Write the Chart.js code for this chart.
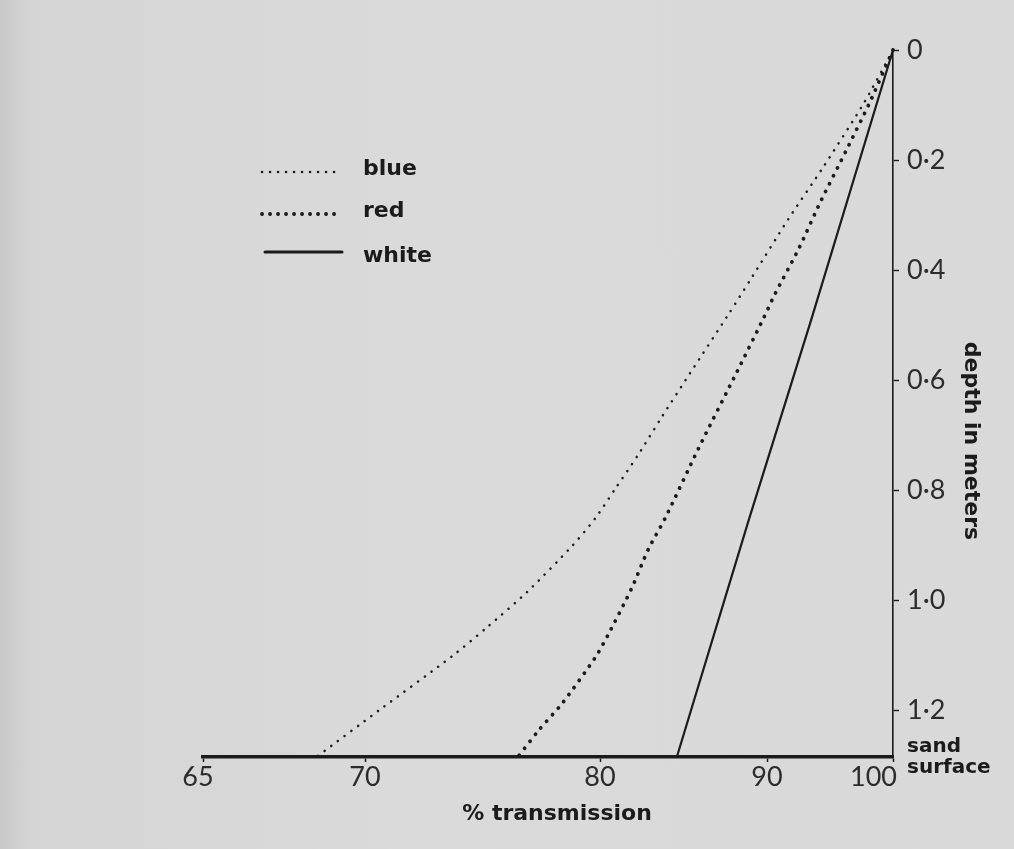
<!DOCTYPE html>
<html>
<head>
<meta charset="utf-8">
<title>Light transmission in sand</title>
<script src="https://cdn.jsdelivr.net/npm/chart.js@4.4.1/dist/chart.umd.min.js"></script>
<style>
  html, body { margin: 0; padding: 0; }
  body {
    width: 1014px; height: 849px; overflow: hidden;
    background: linear-gradient(to right, #c8c8c8 0px, #d5d5d5 30px, #dadada 400px, #d9d9d9 1014px);
  }
  canvas { display: block; }
</style>
</head>
<body>
<canvas id="transChart" width="1014" height="849"></canvas>
<script>
// % transmission against depth below the sand surface, one series per light
const seriesNames = ['blue', 'red', 'white'];

const blueDepth = [0, 0.096, 0.215, 0.307, 0.413, 0.48, 0.587, 0.667, 0.735, 0.798, 0.851, 0.902, 0.985, 1.049, 1.102, 1.2, 1.285];
const blueTrans = [100, 97.7, 94.4, 91.7, 89.1, 87.7, 85.4, 83.7, 82.3, 80.9, 79.8, 78.8, 76.9, 75.2, 73.7, 70.6, 68.5];

const redDepth = [0, 0.098, 0.182, 0.278, 0.362, 0.445, 0.487, 0.585, 0.724, 0.851, 0.907, 0.978, 1.062, 1.104, 1.187, 1.236, 1.285];
const redTrans = [100, 98.1, 96.3, 94.2, 92.5, 90.6, 89.8, 88.2, 85.9, 83.9, 82.9, 81.9, 80.5, 79.8, 78.4, 77.4, 76.5];

const whiteDepth = [0, 0.491, 0.855, 1.285];
const whiteTrans = [100, 93.5, 88.9, 84.6];

const transTicks = [65, 70, 80, 90, 100];
const depthTicks = [0, 0.2, 0.4, 0.6, 0.8, 1.0, 1.2];
const sandDepth = 1.285;

const ink = '#1b1b1b';
const boldFace = '"DejaVu Sans", sans-serif';
const lightFace = 'Lato, "Liberation Sans", sans-serif';

// the transmission axis is not evenly spaced: every labelled value sits at a
// fixed fraction of the axis length, with straight interpolation in between
const axisStops = [0, 0.2348, 0.5754, 0.8174, 1];

function toFraction(v) {
  let i = 0;
  while (i < transTicks.length - 2 && v > transTicks[i + 1]) i++;
  const t = (v - transTicks[i]) / (transTicks[i + 1] - transTicks[i]);
  return axisStops[i] + t * (axisStops[i + 1] - axisStops[i]);
}

function fromFraction(f) {
  let i = 0;
  while (i < axisStops.length - 2 && f > axisStops[i + 1]) i++;
  const t = (f - axisStops[i]) / (axisStops[i + 1] - axisStops[i]);
  return transTicks[i] + t * (transTicks[i + 1] - transTicks[i]);
}

class StretchedScale extends Chart.LinearScale {
  getPixelForValue(value) {
    if (value === null || value === undefined || isNaN(value)) return NaN;
    return this.getPixelForDecimal(toFraction(value));
  }
  getValueForPixel(pixel) {
    return fromFraction(this.getDecimalForPixel(pixel));
  }
}
StretchedScale.id = 'stretched';
StretchedScale.defaults = {};
Chart.register(StretchedScale);

function points(trans, depth) {
  return trans.map((t, i) => ({ x: t, y: depth[i] }));
}

const datasets = [
  { label: seriesNames[0], data: points(blueTrans, blueDepth), borderWidth: 2.5, borderDash: [0.1, 8.2], tension: 0.25 },
  { label: seriesNames[1], data: points(redTrans, redDepth), borderWidth: 3.8, borderDash: [0.1, 8.6], tension: 0.25 },
  { label: seriesNames[2], data: points(whiteTrans, whiteDepth), borderWidth: 2.2, borderDash: [], tension: 0 }
].map(ds => Object.assign(ds, {
  borderColor: ink, borderCapStyle: 'round', pointRadius: 0, fill: false, clip: false
}));

// key in the upper left of the plot, drawn with each series' own stroke
const seriesKey = {
  id: 'seriesKey',
  afterDatasetsDraw(chart) {
    const { ctx, chartArea } = chart;
    const lineY = [122, 164, 202];
    const textY = [125, 167, 212];
    chart.data.datasets.forEach((ds, i) => {
      const x0 = chartArea.left + (i === 2 ? 62 : 59);
      const x1 = chartArea.left + 139;
      ctx.save();
      ctx.strokeStyle = ds.borderColor;
      ctx.lineWidth = i === 2 ? 3 : ds.borderWidth;
      ctx.lineCap = ds.borderCapStyle;
      ctx.setLineDash(i === 2 ? [] : [0.1, 7.9]);
      ctx.beginPath();
      ctx.moveTo(x0, chartArea.top + lineY[i]);
      ctx.lineTo(x1, chartArea.top + lineY[i]);
      ctx.stroke();
      ctx.setLineDash([]);
      ctx.fillStyle = ink;
      ctx.font = 'bold 22px ' + boldFace;
      ctx.textAlign = 'left';
      ctx.textBaseline = 'alphabetic';
      ctx.fillText(ds.label, chartArea.left + 160, chartArea.top + textY[i]);
      ctx.restore();
    });
  }
};

// transmission tick labels and both axis titles
const axisText = {
  id: 'axisText',
  afterDraw(chart) {
    const { ctx, chartArea } = chart;
    const xs = chart.scales.x;
    ctx.save();
    ctx.fillStyle = '#2c2c2c';
    ctx.font = '400 27px ' + lightFace;
    ctx.textBaseline = 'alphabetic';
    transTicks.forEach((v, i) => {
      const px = xs.getPixelForValue(v);
      const last = i === transTicks.length - 1;
      ctx.textAlign = last ? 'right' : 'center';
      ctx.fillText(String(v), last ? px + 4 : px - (i === 0 ? 5 : 0), chartArea.bottom + 29);
    });

    ctx.fillStyle = ink;
    ctx.font = 'bold 22px ' + boldFace;
    ctx.textAlign = 'center';
    ctx.fillText('% transmission', chartArea.left + 354, chartArea.bottom + 63);

    ctx.translate(chartArea.right + 72, chartArea.top + 391);
    ctx.rotate(Math.PI / 2);
    ctx.fillText('depth in meters', 0, 0);
    ctx.restore();
  }
};

new Chart(document.getElementById('transChart'), {
  type: 'line',
  data: { datasets },
  plugins: [seriesKey, axisText],
  options: {
    responsive: false,
    animation: false,
    devicePixelRatio: 1,
    layout: { padding: { left: 203, top: 50, right: 21, bottom: 32 } },
    plugins: { legend: { display: false }, tooltip: { enabled: false } },
    scales: {
      x: {
        type: 'stretched',
        position: 'bottom',
        min: 65,
        max: 100,
        afterBuildTicks: s => { s.ticks = transTicks.map(v => ({ value: v })); },
        afterFit: s => { s.height = 60; },
        border: { display: true, color: ink, width: 3.5 },
        grid: { drawOnChartArea: false, drawTicks: true, tickLength: 5, tickWidth: 1.5, tickColor: ink },
        ticks: { display: false }
      },
      y: {
        type: 'linear',
        position: 'right',
        reverse: true,
        min: 0,
        max: sandDepth,
        afterBuildTicks: s => { s.ticks = depthTicks.concat(sandDepth).map(v => ({ value: v })); },
        afterFit: s => { s.width = 100; },
        border: { display: true, color: ink, width: 1.6 },
        grid: {
          drawOnChartArea: false,
          drawTicks: true,
          tickLength: 6,
          tickWidth: 1.4,
          tickColor: c => (c.tick && c.tick.value === sandDepth ? 'rgba(0,0,0,0)' : ink)
        },
        ticks: {
          padding: 8,
          color: c => (c.tick && c.tick.value === sandDepth ? ink : '#2c2c2c'),
          font: c => (c.tick && c.tick.value === sandDepth
            ? { family: boldFace, size: 20, weight: 'bold', lineHeight: 1.05 }
            : { family: lightFace, size: 27, weight: 400 }),
          callback: v => {
            if (v === sandDepth) return ['sand', 'surface'];
            if (v === 0) return '0';
            return v.toFixed(1).replace('.', '\u00b7');
          }
        }
      }
    }
  }
});
</script>
</body>
</html>
